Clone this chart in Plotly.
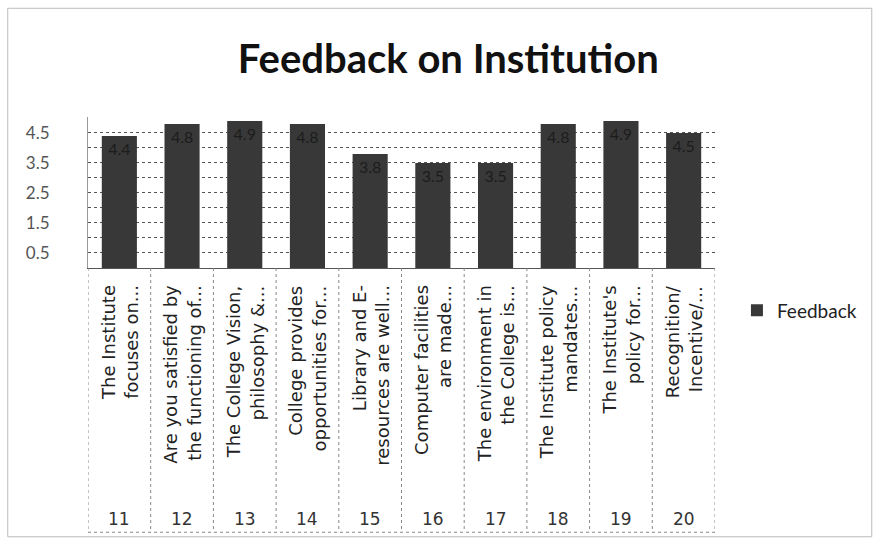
import plotly.graph_objects as go

numbers = ["11", "12", "13", "14", "15", "16", "17", "18", "19", "20"]
questions = [
    "The Institute<br>focuses on...",
    "Are you satisfied by<br>the functioning of...",
    "The College Vision,<br>philosophy &...",
    "College provides<br>opportunities for...",
    "Library and E-<br>resources are well...",
    "Computer facilities<br>are made...",
    "The environment in<br>the College is...",
    "The Institute policy<br>mandates...",
    "The Institute's<br>policy for...",
    "Recognition/<br>Incentive/...",
]
feedback = [4.4, 4.8, 4.9, 4.8, 3.8, 3.5, 3.5, 4.8, 4.9, 4.5]
y_tick_vals = [0.5, 1.5, 2.5, 3.5, 4.5]
y_tick_text = ["0.5", "1.5", "2.5", "3.5", "4.5"]

FONT = "Lato, Carlito, Calibri, sans-serif"
CAT_FONT = "DejaVu Sans, sans-serif"

fig = go.Figure()
fig.add_trace(go.Bar(
    x=numbers, y=feedback, name="Feedback",
    marker=dict(color="#383838", line=dict(width=0)),
    width=0.56,
    text=[f"{v:.1f}" for v in feedback],
    textposition="inside", insidetextanchor="end",
    textfont=dict(family=FONT, size=16, color="#1c1c1c"),
    textangle=0,
))

# category text as annotations under each column (rotated), numbers at bottom
for i, (n, q) in enumerate(zip(numbers, questions)):
    fig.add_annotation(x=i, xref="x", y=-0.1, yref="paper", text=q,
                       textangle=-90, showarrow=False, xanchor="center", yanchor="top",
                       align="right", font=dict(family=CAT_FONT, size=18, color="#222"))
    fig.add_annotation(x=i, xref="x", y=-1.66, yref="paper", text=n,
                       showarrow=False, xanchor="center", yanchor="middle",
                       font=dict(family=CAT_FONT, size=17, color="#333"))

# table dividers under the axis
for i in range(len(numbers) + 1):
    fig.add_shape(type="line", xref="x", yref="paper", x0=i - 0.5, x1=i - 0.5,
                  y0=0, y1=-1.75, line=dict(color="#888", width=1, dash="dot"))
fig.add_shape(type="line", xref="x", yref="paper", x0=-0.5, x1=len(numbers) - 0.5,
              y0=-1.75, y1=-1.75, line=dict(color="#888", width=1, dash="dot"))

# outer chart border
fig.add_shape(type="rect", xref="paper", yref="paper", x0=-0.128, x1=1.25,
              y0=-1.78, y1=1.72, line=dict(color="#bbb", width=1))

fig.update_layout(
    width=879, height=540,
    margin=dict(l=88, r=164, t=117, b=272),
    paper_bgcolor="white", plot_bgcolor="white",
    title=dict(text="<b>Feedback on Institution</b>", x=0.51, xanchor="center",
               y=0.89, yanchor="middle",
               font=dict(family=FONT, size=40, color="#111")),
    showlegend=True,
    legend=dict(x=1.035, xanchor="left", y=-0.28, yanchor="middle",
                font=dict(family=FONT, size=19, color="#222"),
                bgcolor="rgba(0,0,0,0)"),
    bargap=0.44,
)
fig.update_xaxes(type="category", range=[-0.5, len(numbers) - 0.5],
                 showticklabels=False, showgrid=False,
                 showline=True, linecolor="#555", linewidth=1)
fig.update_yaxes(range=[0, 5.03], tickvals=y_tick_vals, ticktext=y_tick_text,
                 tickfont=dict(family=FONT, size=17, color="#555"),
                 showgrid=True, gridcolor="#555", gridwidth=1, griddash="dot",
                 showline=True, linecolor="#999",
                 ticklabelstandoff=34, zeroline=False)
fig.update_yaxes(minor=dict(tickvals=[0.0, 1.0, 2.0, 3.0, 4.0, 5.0], showgrid=True,
                            gridcolor="#555", gridwidth=1, griddash="dot"))

fig.write_html("out.html", config={"displayModeBar": False},
               post_script="document.body.style.margin='0';")
